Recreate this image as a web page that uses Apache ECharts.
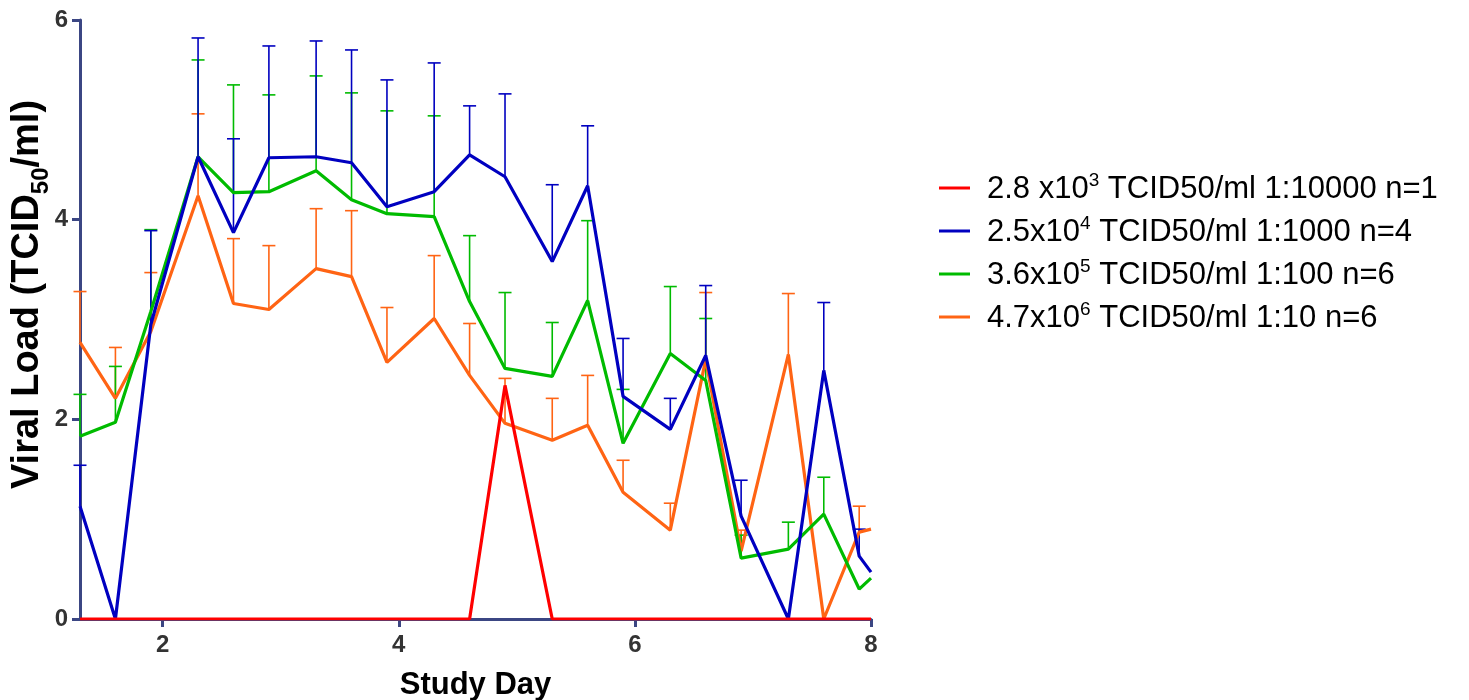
<!DOCTYPE html>
<html>
<head>
<meta charset="utf-8">
<script src="https://cdn.jsdelivr.net/npm/echarts@6/dist/echarts.min.js"></script>
<style>
html,body{margin:0;padding:0;background:#fff;}
#chart{width:1469px;height:700px;}
</style>
</head>
<body>
<div id="chart"></div>
<script>
// ---- data ----
const days = [1.3,1.6,1.9,2.3,2.6,2.9,3.3,3.6,3.9,4.3,4.6,4.9,5.3,5.6,5.9,6.3,6.6,6.9,7.3,7.6,7.9,8.0];

const redVals    = [0,0,0,0,0,0,0,0,0,0,0,2.34,0,0,0,0,0,0,0,0,0,0];

const blueVals   = [1.13,0,2.95,4.63,3.87,4.62,4.63,4.57,4.13,4.28,4.65,4.43,3.58,4.34,2.23,1.90,2.64,1.03,0,2.49,0.63,0.47];
const blueTop    = [1.54,null,3.89,5.82,4.81,5.74,5.79,5.70,5.40,5.57,5.14,5.26,4.35,4.94,2.81,2.21,3.34,1.39,null,3.17,0.90,null];

const greenVals  = [1.83,1.97,3.08,4.63,4.27,4.28,4.49,4.20,4.06,4.03,3.18,2.51,2.43,3.19,1.76,2.66,2.39,0.61,0.70,1.05,0.30,0.41];
const greenTop   = [2.25,2.53,3.90,5.60,5.35,5.25,5.44,5.27,5.09,5.04,3.84,3.27,2.97,3.99,2.30,3.33,3.01,0.84,0.97,1.42,null,null];

const orangeVals = [2.77,2.21,2.88,4.24,3.16,3.10,3.51,3.43,2.57,3.01,2.44,1.96,1.79,1.94,1.27,0.89,2.60,0.68,2.65,0,0.87,0.90];
const orangeTop  = [3.28,2.72,3.47,5.06,3.81,3.74,4.11,4.09,3.12,3.64,2.96,2.41,2.21,2.44,1.59,1.16,3.27,0.89,3.26,null,1.13,null];

const xTicks = [2,4,6,8];
const yTicks = [0,2,4,6];

const seriesNames = ['red','blue','green','orange'];
const legendBase = ['2.8 x10','2.5x10','3.6x10','4.7x10'];
const legendExp  = ['3','4','5','6'];
const legendRest = [' TCID50/ml 1:10000 n=1',' TCID50/ml 1:1000 n=4',' TCID50/ml 1:100 n=6',' TCID50/ml 1:10 n=6'];

const xTitle = 'Study Day';
const yTitleA = 'Viral Load (TCID';
const yTitleSub = '50';
const yTitleB = '/ml)';

// ---- styling ----
const colors = {red:'#ff0000', blue:'#0000c0', green:'#00bb00', orange:'#ff6414'};
const axisColor = '#3b4683';
const FONT = 'Liberation Sans, Arial, Helvetica, sans-serif';

function pairs(vals){ return days.map((d,i)=>[d, vals[i]]); }
function errData(vals, tops){
  const out = [];
  days.forEach((d,i)=>{ if (tops[i] != null) out.push([d, vals[i], tops[i]]); });
  return out;
}
function errSeries(name, vals, tops, color, z){
  return {
    type:'custom', name: name + '_err', z: z, clip:false, silent:true,
    data: errData(vals, tops),
    encode:{x:0, y:[1,2]},
    renderItem: function(params, api){
      const p0 = api.coord([api.value(0), api.value(1)]);
      const p1 = api.coord([api.value(0), api.value(2)]);
      return {type:'group', children:[
        {type:'line', shape:{x1:p0[0], y1:p0[1], x2:p1[0], y2:p1[1]}, style:{stroke:color, lineWidth:1.6}},
        {type:'line', shape:{x1:p1[0]-6.5, y1:p1[1], x2:p1[0]+6.5, y2:p1[1]}, style:{stroke:color, lineWidth:1.6}}
      ]};
    }
  };
}
function lineSeries(name, vals, color, z){
  return {type:'line', name:name, data:pairs(vals), showSymbol:false, symbol:'none', z:z,
    lineStyle:{color:color, width:3.2}, itemStyle:{color:color}, animation:false};
}

const tickLabelStyle = {fontFamily:FONT, fontSize:24, fontWeight:'bold', color:'#333'};

const chart = echarts.init(document.getElementById('chart'), null, {renderer:'canvas'});
chart.setOption({
  animation:false,
  backgroundColor:'#fff',
  textStyle:{fontFamily:FONT},
  grid:{left:80, right:598, top:20, bottom:81, containLabel:false, outerBoundsMode:'none'},
  legend:{
    data: seriesNames,
    orient:'vertical', left:934, top:166,
    itemWidth:31, itemHeight:3, itemGap:9, icon:'rect',
    formatter: function(name){
      const i = seriesNames.indexOf(name);
      return '{b|' + legendBase[i] + '}{s|' + legendExp[i] + '}{b|' + legendRest[i] + '}';
    },
    textStyle:{
      padding:[0,0,0,12],
      rich:{
        b:{fontFamily:FONT, fontSize:31, color:'#000', lineHeight:34, verticalAlign:'bottom'},
        s:{fontFamily:FONT, fontSize:19, color:'#000', lineHeight:34, verticalAlign:'top'}
      }
    }
  },
  xAxis:{
    type:'value', min:1.3, max:8,
    name:xTitle, nameLocation:'middle', nameGap:51,
    nameTextStyle:{fontFamily:FONT, fontSize:31, fontWeight:'bold', color:'#000'},
    axisLine:{show:true, onZero:false, lineStyle:{color:axisColor, width:3}},
    axisTick:{show:true, length:8, customValues:xTicks, lineStyle:{color:axisColor, width:3}},
    axisLabel:Object.assign({show:true, customValues:xTicks, margin:14}, tickLabelStyle),
    splitLine:{show:false}
  },
  yAxis:{
    type:'value', min:0, max:6, interval:2,
    name: '{a|' + yTitleA + '}{s|' + yTitleSub + '}{a|' + yTitleB + '}',
    nameLocation:'middle', nameGap:27, nameRotate:90, nameMoveOverlap:false,
    nameTextStyle:{
      padding:[0,0,0,50],
      rich:{
        a:{fontFamily:FONT, fontSize:38, fontWeight:'bold', color:'#000', lineHeight:44, verticalAlign:'top'},
        s:{fontFamily:FONT, fontSize:24, fontWeight:'bold', color:'#000', lineHeight:44, verticalAlign:'bottom'}
      }
    },
    axisLine:{show:true, lineStyle:{color:axisColor, width:3}},
    axisTick:{show:true, length:8, lineStyle:{color:axisColor, width:3}},
    axisLabel:Object.assign({show:true, margin:12}, tickLabelStyle),
    splitLine:{show:false}
  },
  series:[
    errSeries('orange', orangeVals, orangeTop, colors.orange, 3),
    errSeries('green', greenVals, greenTop, colors.green, 3),
    errSeries('blue', blueVals, blueTop, colors.blue, 3),
    lineSeries('orange', orangeVals, colors.orange, 4),
    lineSeries('green', greenVals, colors.green, 5),
    lineSeries('blue', blueVals, colors.blue, 6),
    lineSeries('red', redVals, colors.red, 7)
  ]
});
</script>
</body>
</html>
